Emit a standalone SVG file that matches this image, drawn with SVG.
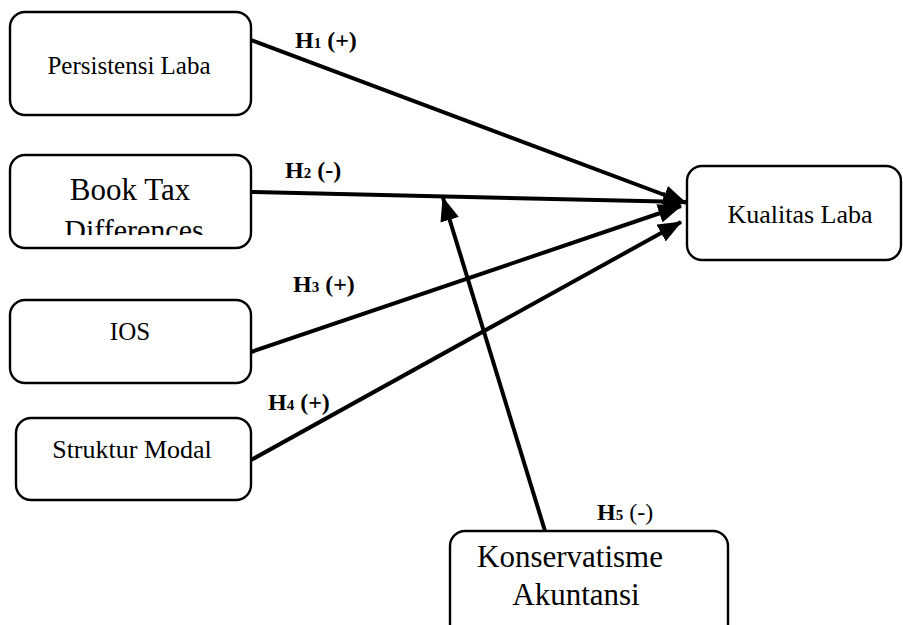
<svg xmlns="http://www.w3.org/2000/svg" width="903" height="625" viewBox="0 0 903 625">
<defs>
<style>
.box{fill:#fff;stroke:#000;stroke-width:2.4}
.t{font-family:"Liberation Serif","Times New Roman",serif;fill:#000;text-anchor:middle}
.lbl{font-family:"Liberation Serif","Times New Roman",serif;fill:#000;font-weight:bold;font-size:24px}
.sub{font-size:15px}
.con{stroke:#000;stroke-width:4;fill:none}
</style>
<marker id="arr" viewBox="0 0 10 8" refX="9.5" refY="4" markerWidth="6" markerHeight="4.8" orient="auto" markerUnits="strokeWidth">
<path d="M0,0 L10,4 L0,8 z" fill="#000"/>
</marker>
<clipPath id="c2"><rect x="10" y="155" width="241" height="80"/></clipPath>
</defs>
<rect width="903" height="625" fill="#fff"/>
<g id="connectors">
<line class="con" x1="251" y1="40" x2="686" y2="203" marker-end="url(#arr)"/>
<line class="con" x1="251" y1="192" x2="686" y2="202" marker-end="url(#arr)"/>
<line class="con" x1="251" y1="352" x2="681" y2="206" marker-end="url(#arr)"/>
<line class="con" x1="251" y1="460" x2="681" y2="222" marker-end="url(#arr)"/>
<line class="con" x1="545" y1="531" x2="443" y2="198" marker-end="url(#arr)"/>
</g>
<g id="labels">
<text class="lbl" x="295" y="48">H<tspan class="sub">1</tspan> (+)</text>
<text class="lbl" x="285" y="178">H<tspan class="sub">2</tspan> (-)</text>
<text class="lbl" x="293" y="292">H<tspan class="sub">3</tspan> (+)</text>
<text class="lbl" x="268" y="410">H<tspan class="sub">4</tspan> (+)</text>
<text class="lbl" x="597" y="520">H<tspan class="sub">5</tspan><tspan font-weight="normal"> (-)</tspan></text>
</g>
<g id="persistensi">
<rect class="box" x="10" y="12" width="241" height="103" rx="15"/>
<text class="t" x="129" y="74" font-size="25">Persistensi Laba</text>
</g>
<g id="btd">
<rect class="box" x="10" y="155" width="241" height="93" rx="15"/>
<g clip-path="url(#c2)">
<text class="t" x="130" y="200" font-size="31">Book Tax</text>
<text class="t" x="134" y="240" font-size="30">Differences</text>
</g>
</g>
<g id="ios">
<rect class="box" x="10" y="300" width="241" height="83" rx="15"/>
<text class="t" x="130" y="340" font-size="25">IOS</text>
</g>
<g id="struktur">
<rect class="box" x="16" y="418" width="235" height="82" rx="15"/>
<text class="t" x="132" y="458" font-size="26">Struktur Modal</text>
</g>
<g id="kualitas">
<rect class="box" x="687" y="166" width="214" height="94" rx="15"/>
<text class="t" x="800" y="223" font-size="26">Kualitas Laba</text>
</g>
<g id="konservatisme">
<rect class="box" x="450" y="531" width="278" height="120" rx="15"/>
<text class="t" x="570" y="567" font-size="31">Konservatisme</text>
<text class="t" x="576" y="605" font-size="31">Akuntansi</text>
</g>
</svg>
